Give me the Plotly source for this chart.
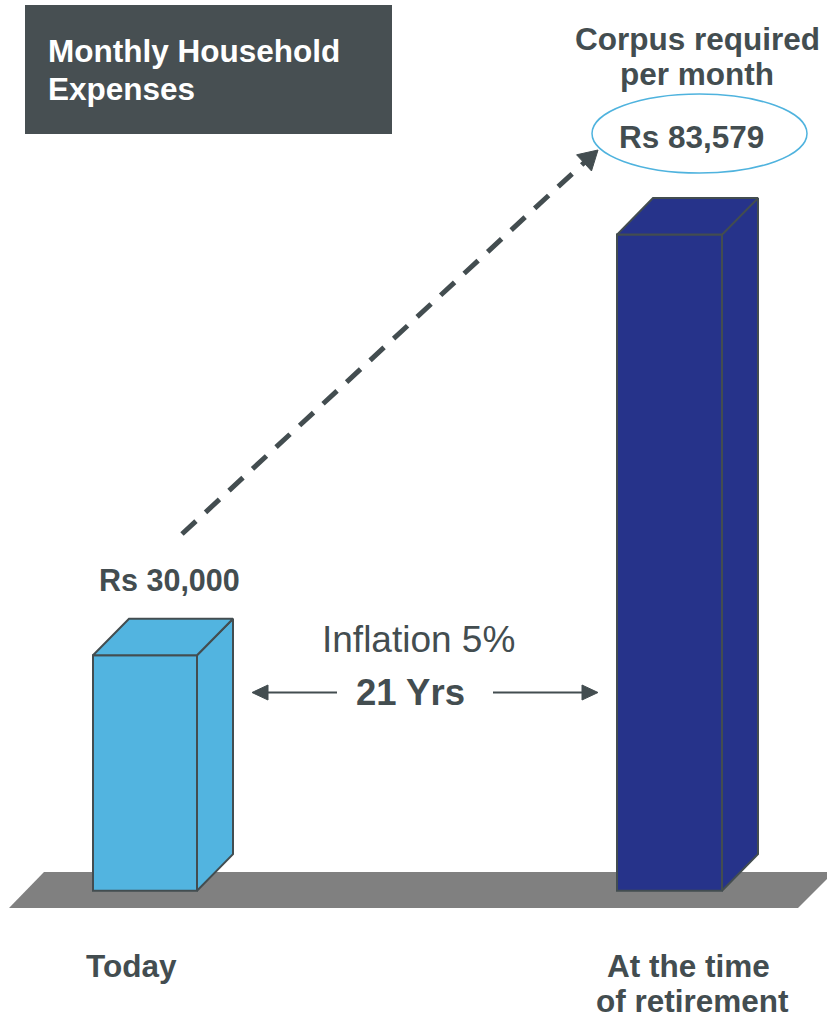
import plotly.graph_objects as go

# ---- data ----
categories = ["Today", "At the time of retirement"]
values = [30000, 83579]
value_labels = ["Rs 30,000", "Rs 83,579"]
bar_colors = ["#52B4E0", "#26338A"]
title_lines = ["Monthly Household", "Expenses"]
corpus_lines = ["Corpus required", "per month"]
category_lines = [["Today"], ["At the time", "of retirement"]]
inflation_text = "Inflation 5%"
years_text = "21 Yrs"

# ---- layout helpers (pixel geometry -> axis units) ----
W, H = 827, 1020
GROUND = 890.7        # pixel y of bar bases
K = 0.00785           # pixels per rupee
def Y(px):
    return (GROUND - px) / K

DARK = "#434D50"
EDGE = "#434D50"
bar_x = [145, 669.5]
bar_w = [104, 105]
DX, DY = 36, 36.5
FONT = "Liberation Sans, Arial, sans-serif"

fig = go.Figure()

# front faces of the bars
fig.add_trace(go.Bar(x=bar_x, y=values, width=bar_w, base=0,
                     marker=dict(color=bar_colors, line=dict(color=EDGE, width=2)),
                     hoverinfo="skip"))

# top and side faces (3D effect)
for cx, w, v, c in zip(bar_x, bar_w, values, bar_colors):
    xl, xr = cx - w / 2, cx + w / 2
    dyv = DY / K
    top_x = [xl, xr, xr + DX, xl + DX, xl]
    top_y = [v, v, v + dyv, v + dyv, v]
    side_x = [xr, xr + DX, xr + DX, xr, xr]
    side_y = [0, dyv, v + dyv, v, 0]
    for px_, py_ in ((side_x, side_y), (top_x, top_y)):
        fig.add_trace(go.Scatter(x=px_, y=py_, fill="toself", fillcolor=c,
                                 line=dict(color=EDGE, width=2), mode="lines",
                                 hoverinfo="skip"))

def poly(xs, ys, color):
    fig.add_trace(go.Scatter(x=xs + [xs[0]], y=[Y(v) for v in ys + [ys[0]]],
                             fill="toself", fillcolor=color, mode="lines",
                             line=dict(color=color, width=1), hoverinfo="skip"))

# dashed growth arrow
tip = (598, 150)
ux, uy = 0.735, -0.678
nx, ny = 0.678, 0.735
L, HW = 19, 11
bx, by = tip[0] - L * ux, tip[1] - L * uy
fig.add_trace(go.Scatter(x=[182, bx + 1], y=[Y(534), Y(by - 1)], mode="lines",
                         line=dict(color=DARK, width=5, dash="19px,13px"),
                         hoverinfo="skip"))
poly([tip[0], bx + HW * nx, bx - HW * nx], [tip[1], by + HW * ny, by - HW * ny], DARK)

# horizontal double arrow around "21 Yrs"
AY = 692.5
for x0, x1 in ((337, 252), (493, 598)):
    sgn = 1 if x1 > x0 else -1
    fig.add_trace(go.Scatter(x=[x0, x1 - sgn * 14], y=[Y(AY), Y(AY)], mode="lines",
                             line=dict(color=DARK, width=2), hoverinfo="skip"))
    poly([x1, x1 - sgn * 16, x1 - sgn * 16], [AY, AY - 7.5, AY + 7.5], DARK)

shapes = [
    dict(type="path", layer="below", fillcolor="#808080", line=dict(width=0),
         path="M 44,{a} L 834,{a} L 798,{b} L 9,{b} Z".format(a=Y(872), b=Y(908))),
    dict(type="rect", x0=25, x1=392, y0=Y(5), y1=Y(134), fillcolor="#474F52",
         line=dict(width=0), layer="below"),
    dict(type="circle", x0=592, x1=807, y0=Y(94), y1=Y(173),
         line=dict(color="#4FB3DE", width=1.5)),
]

ann = []
def txt(x, y, s, size, color=DARK, bold=True, xanchor="center", yanchor="middle"):
    ann.append(dict(x=x, y=Y(y), text=("<b>%s</b>" % s) if bold else s, showarrow=False,
                    xanchor=xanchor, yanchor=yanchor, borderpad=0,
                    font=dict(family=FONT, size=size, color=color)))

txt(47, 51, title_lines[0], 31.5, color="white", xanchor="left")
txt(47, 89, title_lines[1], 31.5, color="white", xanchor="left")
txt(697, 39, corpus_lines[0], 31.5)
txt(697, 74, corpus_lines[1], 31.5)
txt(691, 136.5, value_labels[1], 31.5)
txt(169.5, 580, value_labels[0], 30.5)
txt(418, 639, inflation_text, 37, bold=False)
txt(410, 692.5, years_text, 36.5)
txt(131.5, 966, category_lines[0][0], 31.5)
txt(688, 966, category_lines[1][0], 31.5)
txt(692, 1020, category_lines[1][1], 31.5, yanchor="bottom")

fig.update_layout(
    width=W, height=H, margin=dict(l=0, r=0, t=0, b=0),
    paper_bgcolor="white", plot_bgcolor="white", showlegend=False,
    shapes=shapes, annotations=ann,
    xaxis=dict(range=[0, W], visible=False, fixedrange=True),
    yaxis=dict(range=[Y(H), Y(0)], visible=False, fixedrange=True),
)

fig.write_html("out.html", config={"displayModeBar": False},
               post_script="document.body.style.margin='0px';document.body.style.overflow='hidden';")
